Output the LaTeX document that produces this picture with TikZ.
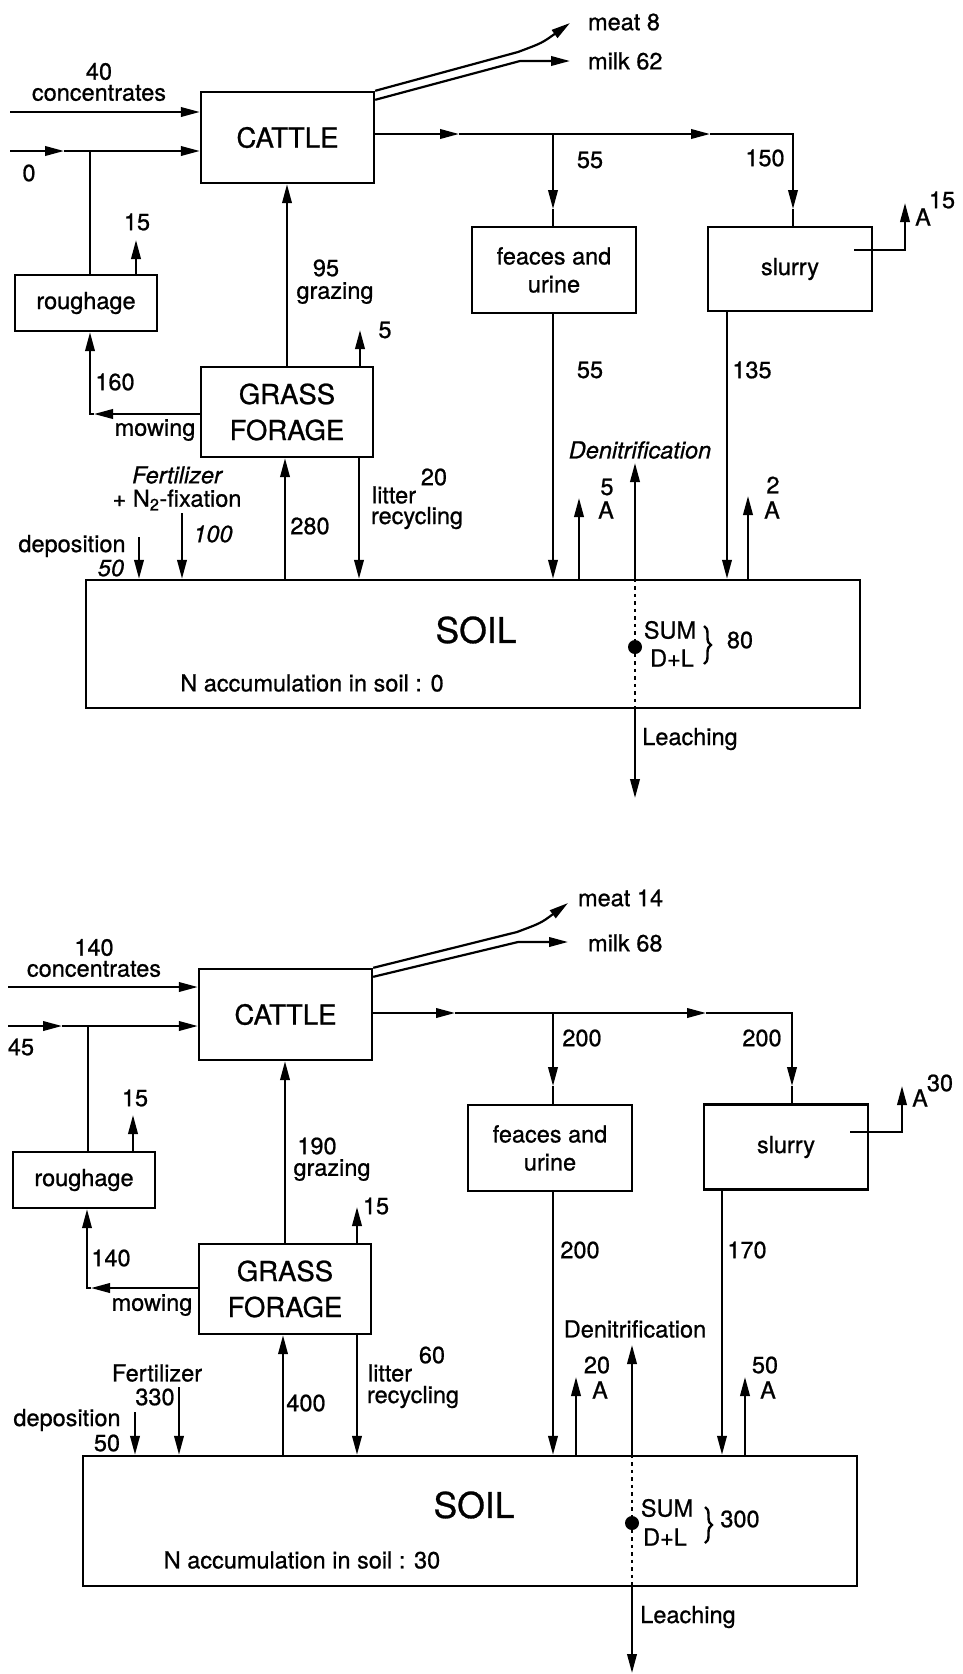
\documentclass[tikz,border=0pt]{standalone}
\usepackage{fontspec}
\setmainfont{TeX Gyre Heros}[FakeBold=0.8]
\usetikzlibrary{arrows.meta, decorations.pathreplacing}

\begin{document}
\begin{tikzpicture}[
    x=1pt, y=-1pt,
    >={Triangle[length=19pt,width=9.5pt]},
    line width=2.2pt,
    box/.style={draw, line width=2.4pt, inner sep=0pt, align=center, font=\fontsize{23.5}{28}\selectfont},
    bigbox/.style={box, font=\fontsize{27.5}{36}\selectfont},
    lbl/.style={inner sep=0pt, align=center, font=\fontsize{23.5}{21}\selectfont},
    ilbl/.style={lbl, font=\fontsize{23.5}{21}\selectfont\itshape},
    flow/.style={->},
    dots/.style={dash pattern=on 3.5pt off 4pt, line width=2.8pt},
    brace/.style={decorate, decoration={brace, amplitude=7pt}, line width=2.4pt}
]
    \useasboundingbox (0,0) rectangle (963,1674);

    \begin{scope}[name prefix=t-]
    \node[bigbox, minimum width=173pt, minimum height=91pt] (cattle) at (287.5,137.5) {CATTLE};
    \node[bigbox, minimum width=172pt, minimum height=90pt] (grass) at (287,412) {GRASS\\FORAGE};
    \node[box, minimum width=142pt, minimum height=56pt] (rough) at (86,303) {roughage};
    \node[box, minimum width=164pt, minimum height=86pt] (faeces) at (554,270) {feaces and\\urine};
    \node[box, minimum width=164pt, minimum height=84pt] (slurry) at (790,269) {slurry};
    \node[box, minimum width=774pt, minimum height=128pt] (soil) at (473,644) {};
    \node[inner sep=0pt, font=\fontsize{35.5}{36}\selectfont] (soiltxt) at (476,630) {SOIL};
    \node[circle, fill, inner sep=0pt, minimum size=14pt] (dot) at (635,647) {};

    \coordinate (conc) at (10,112);
    \coordinate (rin) at (10,151);
    \coordinate (rmid) at (64,151);
    \coordinate (rjoin) at (90,151);
    \coordinate (rloss) at (136,240);
    \coordinate (gloss) at (360,330);
    \coordinate (mow) at (90,414);
    \coordinate (mowmid) at (94,414);
    \coordinate (dep) at (139,537);
    \coordinate (fert) at (182,513);
    \coordinate (upt) at (285,520);
    \coordinate (lit) at (359,520);
    \coordinate (meatbend) at (518,52);
    \coordinate (meat) at (570,23);
    \coordinate (milkbend) at (520,61);
    \coordinate (milk) at (570,61);
    \coordinate (out1) at (459,134);
    \coordinate (out2) at (710,134);
    \coordinate (fbr) at (553,134);
    \coordinate (fdown) at (553,209);
    \coordinate (sbr) at (793,134);
    \coordinate (sdown) at (793,209);
    \coordinate (sout) at (727,311);
    \coordinate (sA) at (905,203);
    \coordinate (aF) at (579,498);
    \coordinate (den) at (635,463);
    \coordinate (aS) at (748,496);
    \coordinate (leach) at (635,798);
    \coordinate (brtop) at (704,626);
    \coordinate (brbot) at (704,664);

    \draw[flow] (conc) -- (conc -| cattle.west);
    \draw[flow] (rin) -- (rmid);
    \draw[flow] (rmid) -- (rmid -| cattle.west);
    \draw (rjoin) -- (rjoin |- rough.north);
    \draw[flow] (rloss |- rough.north) -- (rloss);
    \draw[flow] (grass.north) -- (grass.north |- cattle.south);
    \draw[flow] (gloss |- grass.north) -- (gloss);
    \draw[flow] (mow -| grass.west) -- (mowmid);
    \draw[flow] (mowmid) -- (mow) -- (mow |- rough.south);
    \draw[flow] (dep) -- (dep |- soil.north);
    \draw[flow] (fert) -- (fert |- soil.north);
    \draw[flow] (upt |- soil.north) -- (upt |- grass.south);
    \draw[flow] (lit |- grass.south) -- (lit |- soil.north);
    \draw[flow] (cattle.north east) -- (meatbend) .. controls (542,43) .. (meat);
    \draw[flow] ([yshift=-9pt]cattle.north east) -- (milkbend) -- (milk);
    \draw[flow] (out1 -| cattle.east) -- (out1);
    \draw[flow] (out1) -- (out2);
    \draw[flow] (out2) -- (sbr) -- (sdown);
    \draw (sdown) -- (sdown |- slurry.north);
    \draw[flow] (fbr) -- (fdown);
    \draw (fdown) -- (fdown |- faeces.north);
    \draw[flow] (fbr |- faeces.south) -- (fbr |- soil.north);
    \draw[flow] (sout |- slurry.south) -- (sout |- soil.north);
    \draw[flow] ([xshift=-19pt,yshift=19pt]slurry.east) -| (sA);
    \draw[flow] (aF |- soil.north) -- (aF);
    \draw[flow] (den |- soil.north) -- (den);
    \draw[flow] (aS |- soil.north) -- (aS);
    \draw[dots] (den |- soil.north) -- (den |- soil.south);
    \draw[flow] (den |- soil.south) -- (leach);
    \draw[brace] (brtop) -- (brbot);

    \node[lbl] (lconc) at (99,82) {40\\concentrates};
    \node[lbl] (lrin) at (29,173) {0};
    \node[lbl] (lrloss) at (137,222) {15};
    \node[lbl] (lgraze) at (326,268) {95};
    \node[lbl] (lgrazet) at (335,293) {grazing};
    \node[lbl] (lgloss) at (385,330) {5};
    \node[lbl] (lmow) at (115,382) {160};
    \node[lbl] (lmowt) at (155,430) {mowing};
    \node[ilbl] (lfert) at (177,475) {Fertilizer};
    \node[lbl] (lfix) at (177,500) {+ N\textsubscript{2}-fixation};
    \node[ilbl] (lfertv) at (213,534) {100};
    \node[lbl] (ldep) at (72,546) {deposition};
    \node[ilbl] (ldepv) at (111,568) {50};
    \node[lbl] (lupt) at (310,526) {280};
    \node[lbl] (llit) at (394,495) {litter};
    \node[lbl] (llitt) at (417,518) {recycling};
    \node[lbl] (llitv) at (434,477) {20};
    \node[lbl, anchor=west] (lmeat) at (587,22) {meat 8};
    \node[lbl, anchor=west] (lmilk) at (587,61) {milk 62};
    \node[lbl] (lfin) at (590,160) {55};
    \node[lbl] (lsin) at (765,158) {150};
    \node[lbl] (lsA) at (923,217) {A};
    \node[lbl] (lsAv) at (942,200) {15};
    \node[lbl] (lfout) at (590,370) {55};
    \node[lbl] (lsout) at (752,370) {135};
    \node[lbl] (laFv) at (607,487) {5};
    \node[lbl] (laF) at (606,510) {A};
    \node[lbl] (laSv) at (773,485) {2};
    \node[lbl] (laS) at (772,510) {A};
    \node[ilbl] (lden) at (640,450) {Denitrification};
    \node[lbl] (lsum) at (670,630) {SUM};
    \node[lbl] (ldl) at (672,658) {D+L};
    \node[lbl] (lsumv) at (740,640) {80};
    \node[lbl] (lleach) at (690,739) {Leaching};
    \node[lbl] (lacc) at (312,683) {N accumulation in soil : 0};
    \end{scope}

    \begin{scope}[shift={(-2,877)}, name prefix=b-]
    \node[bigbox, minimum width=173pt, minimum height=91pt] (cattle) at (287.5,137.5) {CATTLE};
    \node[bigbox, minimum width=172pt, minimum height=90pt] (grass) at (287,412) {GRASS\\FORAGE};
    \node[box, minimum width=142pt, minimum height=56pt] (rough) at (86,303) {roughage};
    \node[box, minimum width=164pt, minimum height=86pt] (faeces) at (552,271) {feaces and\\urine};
    \node[box, minimum width=164pt, minimum height=85pt] (slurry) at (788,270) {slurry};
    \node[box, minimum width=774pt, minimum height=130pt] (soil) at (472,644) {};
    \node[inner sep=0pt, font=\fontsize{35.5}{36}\selectfont] (soiltxt) at (476,628) {SOIL};
    \node[circle, fill, inner sep=0pt, minimum size=14pt] (dot) at (634,646) {};

    \coordinate (conc) at (10,110);
    \coordinate (rin) at (10,149);
    \coordinate (rmid) at (64,149);
    \coordinate (rjoin) at (90,149);
    \coordinate (rloss) at (135,238);
    \coordinate (gloss) at (359,330);
    \coordinate (mow) at (89,411);
    \coordinate (mowmid) at (93,411);
    \coordinate (dep) at (137,535);
    \coordinate (fert) at (181,510);
    \coordinate (upt) at (285,520);
    \coordinate (lit) at (359,520);
    \coordinate (meatbend) at (519,55);
    \coordinate (meat) at (570,26);
    \coordinate (milkbend) at (520,65);
    \coordinate (milk) at (570,65);
    \coordinate (out1) at (457,136);
    \coordinate (out2) at (708,136);
    \coordinate (fbr) at (555,136);
    \coordinate (fdown) at (555,209);
    \coordinate (sbr) at (794,136);
    \coordinate (sdown) at (794,209);
    \coordinate (sout) at (724,311);
    \coordinate (sA) at (904,209);
    \coordinate (aF) at (578,500);
    \coordinate (den) at (634,468);
    \coordinate (aS) at (747,500);
    \coordinate (leach) at (634,796);
    \coordinate (brtop) at (707,630);
    \coordinate (brbot) at (707,666);

    \draw[flow] (conc) -- (conc -| cattle.west);
    \draw[flow] (rin) -- (rmid);
    \draw[flow] (rmid) -- (rmid -| cattle.west);
    \draw (rjoin) -- (rjoin |- rough.north);
    \draw[flow] (rloss |- rough.north) -- (rloss);
    \draw[flow] (grass.north) -- (grass.north |- cattle.south);
    \draw[flow] (gloss |- grass.north) -- (gloss);
    \draw[flow] (mow -| grass.west) -- (mowmid);
    \draw[flow] (mowmid) -- (mow) -- (mow |- rough.south);
    \draw[flow] (dep) -- (dep |- soil.north);
    \draw[flow] (fert) -- (fert |- soil.north);
    \draw[flow] (upt |- soil.north) -- (upt |- grass.south);
    \draw[flow] (lit |- grass.south) -- (lit |- soil.north);
    \draw[flow] (cattle.north east) -- (meatbend) .. controls (543,46) .. (meat);
    \draw[flow] ([yshift=-9pt]cattle.north east) -- (milkbend) -- (milk);
    \draw[flow] (out1 -| cattle.east) -- (out1);
    \draw[flow] (out1) -- (out2);
    \draw[flow] (out2) -- (sbr) -- (sdown);
    \draw (sdown) -- (sdown |- slurry.north);
    \draw[flow] (fbr) -- (fdown);
    \draw (fdown) -- (fdown |- faeces.north);
    \draw[flow] (fbr |- faeces.south) -- (fbr |- soil.north);
    \draw[flow] (sout |- slurry.south) -- (sout |- soil.north);
    \draw[flow] ([xshift=-19pt,yshift=15pt]slurry.east) -| (sA);
    \draw[flow] (aF |- soil.north) -- (aF);
    \draw[flow] (den |- soil.north) -- (den);
    \draw[flow] (aS |- soil.north) -- (aS);
    \draw[dots] (den |- soil.north) -- (den |- soil.south);
    \draw[flow] (den |- soil.south) -- (leach);
    \draw[brace] (brtop) -- (brbot);

    \node[lbl] (lconc) at (96,81) {140\\concentrates};
    \node[lbl] (lrin) at (23,170) {45};
    \node[lbl] (lrloss) at (137,221) {15};
    \node[lbl] (lgraze) at (319,269) {190};
    \node[lbl] (lgrazet) at (334,293) {grazing};
    \node[lbl] (lgloss) at (378,329) {15};
    \node[lbl] (lmow) at (113,381) {140};
    \node[lbl] (lmowt) at (154,428) {mowing};
    \node[lbl] (lfert) at (159,496) {Fertilizer};
    \node[lbl] (lfertv) at (157,520) {330};
    \node[lbl] (ldep) at (69,543) {deposition};
    \node[lbl] (ldepv) at (109,566) {50};
    \node[lbl] (lupt) at (308,526) {400};
    \node[lbl] (llit) at (392,496) {litter};
    \node[lbl] (llitt) at (415,520) {recycling};
    \node[lbl] (llitv) at (434,478) {60};
    \node[lbl, anchor=west] (lmeat) at (579,21) {meat 14};
    \node[lbl, anchor=west] (lmilk) at (589,66) {milk 68};
    \node[lbl] (lfin) at (584,161) {200};
    \node[lbl] (lsin) at (764,161) {200};
    \node[lbl] (lsA) at (922,221) {A};
    \node[lbl] (lsAv) at (942,206) {30};
    \node[lbl] (lfout) at (582,373) {200};
    \node[lbl] (lsout) at (749,373) {170};
    \node[lbl] (laFv) at (599,488) {20};
    \node[lbl] (laF) at (602,513) {A};
    \node[lbl] (laSv) at (767,488) {50};
    \node[lbl] (laS) at (770,513) {A};
    \node[lbl] (lden) at (637,452) {Denitrification};
    \node[lbl] (lsum) at (669,631) {SUM};
    \node[lbl] (ldl) at (667,660) {D+L};
    \node[lbl] (lsumv) at (742,642) {300};
    \node[lbl] (lleach) at (690,740) {Leaching};
    \node[lbl] (lacc) at (304,683) {N accumulation in soil : 30};
    \end{scope}
\end{tikzpicture}
\end{document}
